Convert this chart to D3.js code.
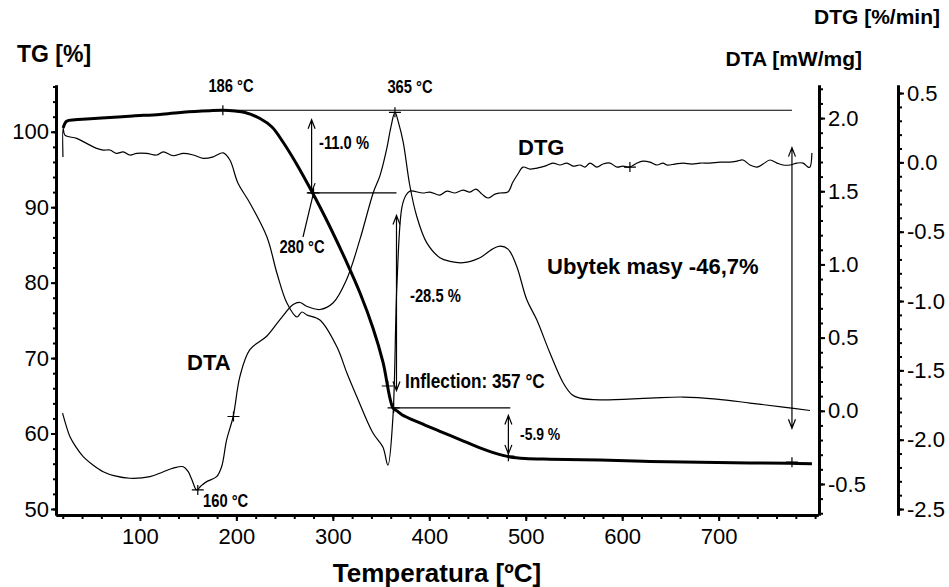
<!DOCTYPE html>
<html lang="pl">
<head>
    <meta charset="UTF-8">
    <title>TG / DTG / DTA</title>
    <script src="https://cdn.jsdelivr.net/npm/d3@7/dist/d3.min.js"></script>
    <style>
        body { margin: 0; background: #fff; }
        .axis path, .axis line { fill: none; stroke: #000; }
        .axis path { stroke-width: 3; }
        .axis line { stroke-width: 2; }
        .axis text { font-family: "Liberation Sans", Arial, sans-serif; font-size: 22px; fill: #000; }
        .title { font-family: "Liberation Sans", Arial, sans-serif; font-weight: bold; fill: #000; }
        .note { font-family: "Liberation Sans", Arial, sans-serif; font-weight: bold; fill: #000; }
        .thin { fill: none; stroke: #000; stroke-width: 1.2; }
    </style>
</head>
<body>
<svg id="vis" width="949" height="587"></svg>
<script>
    // --- dane ---
    const tgT   = [20.4, 24, 32.6, 44.7, 68.9, 92.7, 120.7, 144.6, 172.6, 186.1, 198.5, 208.9, 224.5, 236.9, 248.3, 261.8, 277.4, 286.7, 297.1, 314.7, 328.2, 341.6, 352, 362.4, 366.5, 371.6, 390.3, 411, 431.8, 452.5, 473.3, 483.6, 499.2, 525.1, 577, 628.8, 680.6, 732.5, 774, 796.7];
    const tgVal = [100.5, 101.4, 101.6, 101.7, 101.9, 102.1, 102.3, 102.6, 102.8, 102.85, 102.75, 102.55, 101.76, 100.63, 98.64, 95.86, 92.28, 90.03, 87.38, 82.6, 78.63, 73.99, 69.48, 63.38, 63.0, 62.5, 61.4, 60.3, 59.2, 58.1, 57.2, 56.9, 56.7, 56.6, 56.5, 56.3, 56.2, 56.1, 56.05, 56.0];

    const dtaT   = [19.8, 23.3, 27.4, 33.6, 41.2, 51.3, 61.9, 74.1, 89.6, 110.4, 123.8, 134.5, 144.9, 150.1, 154, 158.8, 163.2, 169.2, 179.5, 184.7, 189.9, 196.7, 203.7, 214, 231.4, 245.2, 258.9, 265.9, 272.8, 286.6, 300.4, 314.3, 328.1, 341.9, 348.8, 355.8, 360.2, 364.4, 368.5, 373, 379.9, 386.9, 397.3, 411, 421.4, 435.2, 452.5, 465, 473.3, 481.9, 490.6, 501, 511.3, 525.1, 538.9, 548, 556.2, 577, 628.8, 663.3, 697.9, 732.5, 767, 794.7];
    const dtaVal = [-0.016, -0.096, -0.176, -0.247, -0.313, -0.370, -0.416, -0.445, -0.461, -0.450, -0.418, -0.392, -0.382, -0.416, -0.473, -0.541, -0.514, -0.484, -0.450, -0.382, -0.199, -0.039, 0.235, 0.418, 0.509, 0.623, 0.726, 0.740, 0.714, 0.692, 0.738, 0.897, 1.171, 1.490, 1.605, 1.788, 1.938, 2.039, 1.959, 1.834, 1.536, 1.331, 1.149, 1.046, 1.021, 1.012, 1.046, 1.103, 1.125, 1.103, 0.988, 0.760, 0.623, 0.395, 0.190, 0.110, 0.087, 0.075, 0.087, 0.094, 0.080, 0.053, 0.025, 0.002];

    const dtgT   = [20.2, 20.4, 22.2, 34.4, 44.7, 55.1, 62, 68.9, 75.8, 82.7, 89.6, 96.6, 107, 117.3, 124.2, 134.6, 144.9, 155.3, 165.6, 176, 186.4, 193.3, 201.6, 214, 231.7, 242, 252.4, 262.8, 268, 273.1, 286.6, 304.3, 314.6, 325, 341.6, 351.9, 357.1, 362.3, 366.5, 371.6, 375.8, 379.9, 393.4, 400.7, 411, 418.3, 426.6, 434.9, 442.1, 448.4, 454.6, 460.8, 468.1, 473.3, 481.5, 486.7, 491.9, 497.1, 504.4, 511.6, 519.9, 528.2, 535.5, 542.7, 549, 556.2, 561.4, 566.6, 573.8, 580.1, 587.3, 594.6, 600.8, 608, 615.3, 621.5, 628.8, 636, 642.3, 646.4, 654.7, 663, 672.3, 680.6, 691, 701.3, 711.7, 719, 725.2, 732.5, 739.7, 746, 753.2, 760.5, 766.7, 774, 781.2, 787.5, 792.7, 794.7, 796.7];
    const dtgVal = [0.038, 0.247, 0.197, 0.173, 0.137, 0.101, 0.089, 0.089, 0.065, 0.076, 0.053, 0.065, 0.065, 0.053, 0.076, 0.048, 0.065, 0.053, 0.029, 0.040, 0.069, 0.017, -0.149, -0.293, -0.538, -0.798, -1.014, -1.115, -1.079, -1.101, -1.137, -1.332, -1.519, -1.692, -1.952, -2.053, -2.183, -1.838, -0.872, -0.324, -0.237, -0.207, -0.221, -0.214, -0.236, -0.207, -0.221, -0.200, -0.214, -0.193, -0.229, -0.257, -0.229, -0.221, -0.214, -0.142, -0.084, -0.034, -0.048, -0.041, -0.027, -0.005, -0.019, -0.005, -0.027, -0.019, -0.034, -0.005, -0.034, -0.012, -0.005, -0.034, -0.027, -0.034, -0.005, 0.009, 0.002, -0.019, -0.005, -0.019, -0.012, -0.005, -0.012, -0.005, -0.005, 0.002, 0.002, 0.009, 0.017, -0.019, -0.034, -0.012, 0.017, -0.005, -0.019, -0.019, -0.005, -0.005, -0.034, -0.034, 0.067];

    const xTicks   = [100, 200, 300, 400, 500, 600, 700];
    const tgTicks  = [50, 60, 70, 80, 90, 100];
    const dtaTicks = [-0.5, 0.0, 0.5, 1.0, 1.5, 2.0];
    const dtgTicks = [-2.5, -2.0, -1.5, -1.0, -0.5, 0.0, 0.5];

    // punkty charakterystyczne [T, wartosc]
    const tgMarks  = [[186, 102.85], [280, 91.9], [357, 66.3], [363, 63.4], [482, 57.0], [776, 56.2]];
    const dtaMarks = [[160, -0.541], [197, -0.039], [364.4, 2.039]];
    const dtgMarks = [[608, -0.034]];
    // linie odniesienia TG [T od, T do, TG]
    const tgLevels = [[186, 776, 102.85], [273, 366, 91.9], [362, 484, 63.4]];
    // strzalki ubytku masy [T, TG gora, TG dol]
    const tgArrows = [[278, 101.6, 92.0], [366, 88.9, 65.7], [482, 62.4, 57.3], [776, 97.9, 60.7]];

    /* Skale */
    let svg = d3.select("#vis");
    let x = d3.scaleLinear().domain([13, 803]).range([56, 818]);
    let yTG = d3.scaleLinear().domain([49.2, 106.2]).range([515, 85]);
    let yDTA = d3.scaleLinear().domain([-0.712, 2.226]).range([515, 85]);
    let yDTG = d3.scaleLinear().domain([-2.543, 0.558]).range([515, 85]);
    let fmt1 = (d) => d.toFixed(1);

    /* Osie - drobne podzialki */
    svg.append("g").attr("class", "axis").attr("transform", "translate(0,515)")
        .call(d3.axisBottom(x).tickValues(d3.range(20, 801, 20)).tickSize(4).tickSizeOuter(0).tickFormat(""));
    svg.append("g").attr("class", "axis").attr("transform", "translate(56,0)")
        .call(d3.axisLeft(yTG).tickValues(d3.range(50, 107, 2)).tickSize(3).tickSizeOuter(0).tickFormat(""));
    svg.append("g").attr("class", "axis").attr("transform", "translate(819,0)")
        .call(d3.axisRight(yDTA).tickValues(d3.range(-7, 23).map(d => d / 10)).tickSize(4).tickSizeOuter(0).tickFormat(""));
    svg.append("g").attr("class", "axis").attr("transform", "translate(898,0)")
        .call(d3.axisRight(yDTG).tickValues(d3.range(-25, 6).map(d => d / 10)).tickSize(4).tickSizeOuter(0).tickFormat(""));

    /* Osie - glowne */
    svg.append("g").attr("class", "axis").attr("transform", "translate(0,515)")
        .call(d3.axisBottom(x).tickValues(xTicks).tickSize(6).tickPadding(7).tickSizeOuter(0).tickFormat(d3.format("d")));
    svg.append("g").attr("class", "axis").attr("transform", "translate(56,0)")
        .call(d3.axisLeft(yTG).tickValues(tgTicks).tickSize(5).tickPadding(2).tickSizeOuter(0).tickFormat(d3.format("d")));
    svg.append("g").attr("class", "axis").attr("transform", "translate(819,0)")
        .call(d3.axisRight(yDTA).tickValues(dtaTicks).tickSize(6).tickPadding(3).tickSizeOuter(0).tickFormat(fmt1));
    svg.append("g").attr("class", "axis").attr("transform", "translate(898,0)")
        .call(d3.axisRight(yDTG).tickValues(dtgTicks).tickSize(6).tickPadding(3).tickSizeOuter(0).tickFormat(fmt1));

    /* Krzywe */
    let lineTG = d3.line().x((d, i) => x(tgT[i])).y((d) => yTG(d)).curve(d3.curveCatmullRom.alpha(0.5));
    let lineDTA = d3.line().x((d, i) => x(dtaT[i])).y((d) => yDTA(d)).curve(d3.curveCatmullRom.alpha(0.5));
    let lineDTG = d3.line().x((d, i) => x(dtgT[i])).y((d) => yDTG(d)).curve(d3.curveCatmullRom.alpha(0.5));

    svg.append("path").attr("class", "thin").attr("d", lineDTA(dtaVal));
    svg.append("path").attr("class", "thin").attr("d", lineDTG(dtgVal));
    svg.append("path").attr("fill", "none").attr("stroke", "#000").attr("stroke-width", 3).attr("d", lineTG(tgVal));

    /* Linie odniesienia */
    svg.selectAll(".level").data(tgLevels).join("line").attr("class", "thin")
        .attr("x1", (d) => x(d[0])).attr("x2", (d) => x(d[1]))
        .attr("y1", (d) => yTG(d[2])).attr("y2", (d) => yTG(d[2]));

    /* Strzalki */
    tgArrows.forEach(function(a) {
        let ax = x(a[0]), y1 = yTG(a[1]), y2 = yTG(a[2]);
        svg.append("path").attr("class", "thin")
            .attr("d", `M${ax},${y1}L${ax},${y2}M${ax - 3.5},${y1 + 9}L${ax},${y1}L${ax + 3.5},${y1 + 9}M${ax - 3.5},${y2 - 9}L${ax},${y2}L${ax + 3.5},${y2 - 9}`);
    });

    /* Znaczniki + */
    function cross(px, py) {
        svg.append("path").attr("class", "thin")
            .attr("d", `M${px - 6},${py}L${px + 6},${py}M${px},${py - 5}L${px},${py + 5}`);
    }
    tgMarks.forEach((m) => cross(x(m[0]), yTG(m[1])));
    dtaMarks.forEach((m) => cross(x(m[0]), yDTA(m[1])));
    dtgMarks.forEach((m) => cross(x(m[0]), yDTG(m[1])));

    // linia do opisu 280 °C
    svg.append("line").attr("class", "thin")
        .attr("x1", x(280)).attr("y1", yTG(91.9)).attr("x2", 303).attr("y2", 237);

    /* Opisy */
    function note(txt, px, py, size, anchor) {
        svg.append("text").attr("class", "note")
            .attr("transform", `translate(${px},${py}) scale(0.82,1)`)
            .attr("text-anchor", anchor || "start")
            .style("font-size", size + "px")
            .text(txt);
    }
    note("186 °C", 231, 92, 18, "middle");
    note("365 °C", 410, 93, 18, "middle");
    note("-11.0 %", 319, 149, 18);
    note("280 °C", 302, 253, 18, "middle");
    note("-28.5 %", 410, 302, 18);
    note("Inflection: 357 °C", 405, 388, 21);
    note("-5.9 %", 520, 440, 17);
    note("160 °C", 203, 507, 18);

    function title(txt, px, py, size, anchor) {
        svg.append("text").attr("class", "title")
            .attr("x", px).attr("y", py)
            .attr("text-anchor", anchor || "start")
            .style("font-size", size + "px")
            .text(txt);
    }
    title("TG [%]", 17, 62, 23);
    title("DTG [%/min]", 940, 24, 21, "end");
    title("DTA [mW/mg]", 862, 66, 21, "end");
    title("Temperatura [ºC]", 437, 582, 26, "middle");
    title("DTG", 518, 155, 22);
    title("DTA", 187, 370, 22);
    title("Ubytek masy -46,7%", 547, 274, 22);
</script>
</body>
</html>
